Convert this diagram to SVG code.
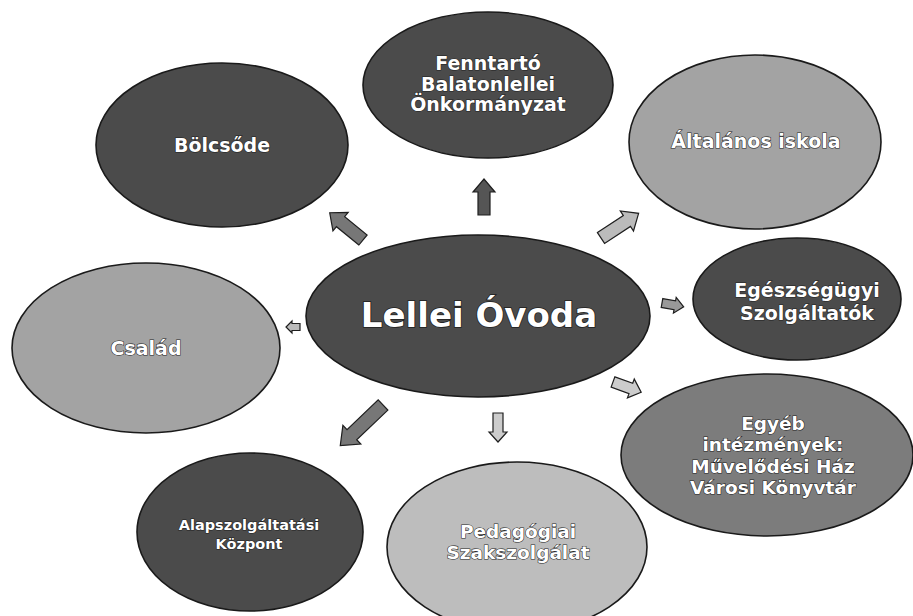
<svg xmlns="http://www.w3.org/2000/svg" width="913" height="616" viewBox="0 0 913 616">
<defs>
<style>
.node ellipse{stroke:#1a1a1a;stroke-width:1.6}
.dark{fill:#4b4b4b}
.mid{fill:#7c7c7c}
.light{fill:#a3a3a3}
.pale{fill:#bdbdbd}
.lbl{font-family:"DejaVu Sans",Verdana,sans-serif;font-weight:bold;fill:#ffffff;stroke:#1e1e1e;stroke-width:1.1;paint-order:stroke;text-anchor:middle}
.arrow path{stroke:#1e1e1e;stroke-width:1.2;stroke-linejoin:miter}
</style>
</defs>
<rect width="913" height="616" fill="#ffffff"/>
<g id="connectors" class="arrow">
<path transform="translate(484,215) rotate(-90)" d="M0,-6 H23 V-11 L36,0 L23,11 V6 H0 Z" fill="#555"/>
<path transform="translate(363,240) rotate(-140.7)" d="M0,-6.5 H29 V-12 L43,0 L29,12 V6.5 H0 Z" fill="#777"/>
<path transform="translate(601,238) rotate(-33.3)" d="M0,-6.5 H31 V-12 L45,0 L31,12 V6.5 H0 Z" fill="#bbb"/>
<path transform="translate(662,303) rotate(10)" d="M0,-4.5 H13 V-8 L22,0 L13,8 V4.5 H0 Z" fill="#999"/>
<path transform="translate(613,382) rotate(20)" d="M0,-5.5 H19 V-10 L30,0 L19,10 V5.5 H0 Z" fill="#ccc"/>
<path transform="translate(498,413) rotate(90)" d="M0,-5 H19 V-9 L29,0 L19,9 V5 H0 Z" fill="#ccc"/>
<path transform="translate(383,405) rotate(136.4)" d="M0,-7 H43 V-13 L59,0 L43,13 V7 H0 Z" fill="#777"/>
<path transform="translate(300,327) rotate(180)" d="M0,-3.5 H8 V-6 L14,0 L8,6 V3.5 H0 Z" fill="#bbb"/>
</g>
<g id="fenntarto" class="node">
<ellipse cx="488" cy="85" rx="125" ry="73" class="dark"/>
<text class="lbl" font-size="19"><tspan x="488" y="70">Fenntartó</tspan><tspan x="488" y="91">Balatonlellei</tspan><tspan x="488" y="111">Önkormányzat</tspan></text>
</g>
<g id="bolcsode" class="node">
<ellipse cx="222" cy="145" rx="126" ry="82" class="dark"/>
<text class="lbl" font-size="19" x="222" y="152">Bölcsőde</text>
</g>
<g id="altalanos" class="node">
<ellipse cx="755" cy="142" rx="126" ry="87" class="light"/>
<text class="lbl" font-size="19" x="756" y="148">Általános iskola</text>
</g>
<g id="lellei" class="node">
<ellipse cx="478" cy="316" rx="172" ry="81" class="dark"/>
<text class="lbl" font-size="34" x="479" y="327" style="stroke-width:1.6">Lellei Óvoda</text>
</g>
<g id="egeszseg" class="node">
<ellipse cx="797" cy="299" rx="104" ry="61" class="dark"/>
<text class="lbl" font-size="19"><tspan x="807" y="297">Egészségügyi</tspan><tspan x="807" y="320">Szolgáltatók</tspan></text>
</g>
<g id="csalad" class="node">
<ellipse cx="146" cy="348" rx="134" ry="85" class="light"/>
<text class="lbl" font-size="19" x="146" y="355">Család</text>
</g>
<g id="egyeb" class="node">
<ellipse cx="767" cy="455" rx="146" ry="81" class="mid"/>
<text class="lbl" font-size="18.5"><tspan x="773" y="430">Egyéb</tspan><tspan x="773" y="451">intézmények:</tspan><tspan x="773" y="473">Művelődési Ház</tspan><tspan x="773" y="494">Városi Könyvtár</tspan></text>
</g>
<g id="alap" class="node">
<ellipse cx="250" cy="532" rx="113" ry="79" class="dark"/>
<text class="lbl" font-size="14.5"><tspan x="249" y="530">Alapszolgáltatási</tspan><tspan x="249" y="549">Központ</tspan></text>
</g>
<g id="pedagogiai" class="node">
<ellipse cx="517" cy="547" rx="130" ry="85" class="pale"/>
<text class="lbl" font-size="18.5"><tspan x="518" y="538">Pedagógiai</tspan><tspan x="518" y="559">Szakszolgálat</tspan></text>
</g>
</svg>
